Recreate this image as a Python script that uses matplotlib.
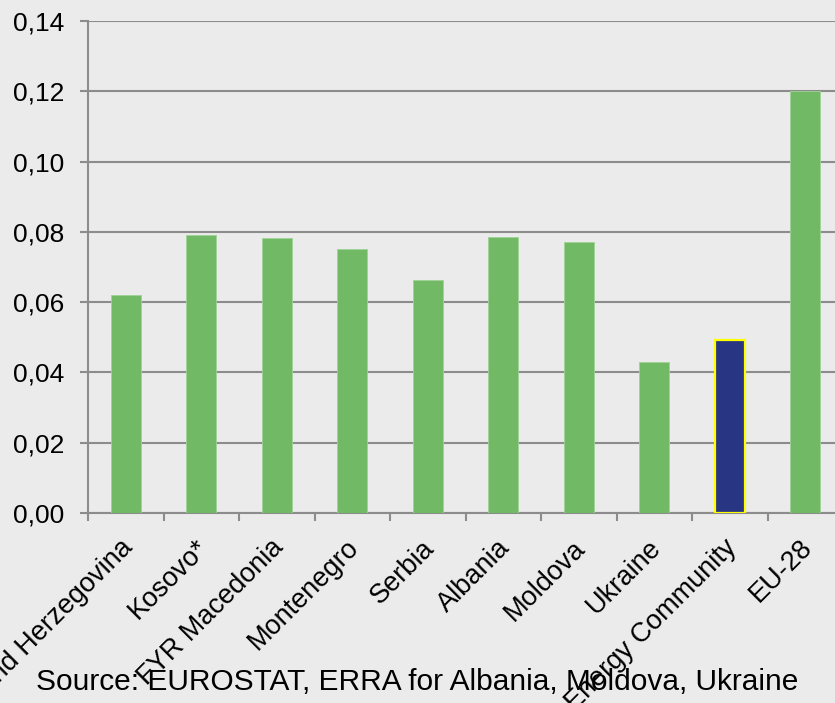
import matplotlib
matplotlib.use("Agg")
import matplotlib.pyplot as plt
import matplotlib.transforms as mtransforms
from matplotlib.ticker import FixedLocator, FuncFormatter

categories = ["Bosnia and Herzegovina", "Kosovo*", "FYR Macedonia", "Montenegro",
              "Serbia", "Albania", "Moldova", "Ukraine", "Energy Community", "EU-28"]
values = [0.0620, 0.0791, 0.0783, 0.0751, 0.0663, 0.0785, 0.0771, 0.0430, 0.0492, 0.1201]
highlight = "Energy Community"
yticks = [0.00, 0.02, 0.04, 0.06, 0.08, 0.10, 0.12, 0.14]
source_text = "Source: EUROSTAT, ERRA for Albania, Moldova, Ukraine"

plt.rcParams['font.family'] = ['Liberation Sans', 'DejaVu Sans']

bg = "#EBEBEB"
green = "#72B966"
navy = "#283583"
grid_c = "#8C8C8C"

fig = plt.figure(figsize=(8.35, 7.03), dpi=100, facecolor=bg)
ax = fig.add_axes([88/835, 1-513/703, 755/835, 492/703])
ax.set_facecolor(bg)

x = list(range(len(categories)))
colors = [navy if c == highlight else green for c in categories]
edges = ["#FFFF00" if c == highlight else "#9FD396" for c in categories]
lws = [1.6 if c == highlight else 0.6 for c in categories]
ax.bar(x, values, width=0.4, color=colors, edgecolor=edges, linewidth=lws, zorder=3)

ax.set_xlim(-0.5, len(categories) - 0.5)
ax.set_ylim(0, 0.14)
ax.set_yticks(yticks)
ax.yaxis.set_major_formatter(FuncFormatter(lambda v, p: f"{v:.2f}".replace(".", ",")))
ax.grid(axis="y", color=grid_c, linewidth=1.5, zorder=1)
ax.tick_params(axis="y", length=6, width=1.5, color=grid_c, labelsize=19, pad=11, labelcolor="black")

ax.set_xticks([])
ax.xaxis.set_minor_locator(FixedLocator([i - 0.5 for i in range(len(categories) + 1)]))
ax.tick_params(axis="x", which="minor", length=6, width=1.5, color=grid_c, direction="out")

for s in ["top", "right"]:
    ax.spines[s].set_visible(False)
for s in ["left", "bottom"]:
    ax.spines[s].set_color(grid_c)
    ax.spines[s].set_linewidth(1.5)

offset = mtransforms.ScaledTranslation(3/100, -31/100, fig.dpi_scale_trans)
trans = mtransforms.blended_transform_factory(ax.transData, ax.transAxes) + offset
for i, c in enumerate(categories):
    ax.text(i, 0, c, transform=trans, rotation=45, ha="right", va="center",
            rotation_mode="anchor", fontsize=19.5, color="black", clip_on=False)

fig.text(417/835, 1-682/703, source_text, ha="center", va="center", fontsize=21.5, color="black")

fig.savefig("out.png", dpi=100, facecolor=bg)
